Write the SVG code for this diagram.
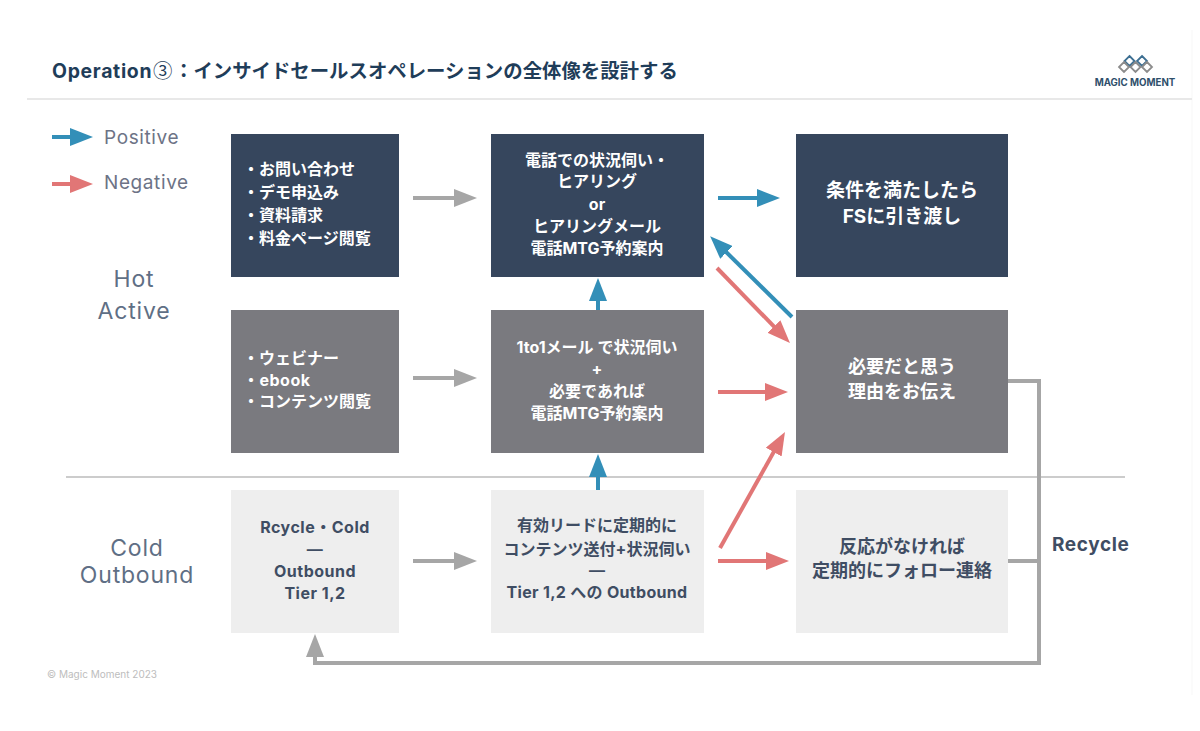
<svg xmlns="http://www.w3.org/2000/svg" width="1200" height="731" viewBox="0 0 1200 731">
<style>
text{font-family:"Inter","Noto Sans CJK JP",sans-serif}
.b{font-weight:700}
.w{fill:#fff}
.d{fill:#3f4d63}
.m{text-anchor:middle}
.s16{font-size:16px}.s18{font-size:18px}
.lat{letter-spacing:.5px}
.lab{font-size:23px;letter-spacing:.8px;fill:#5f6f85;text-anchor:middle}
.leg{font-size:19px;letter-spacing:.6px;fill:#6d7386}
.dark{fill:#36465d}.gray{fill:#7a7a7f}.light{fill:#eeeeee}
.c{fill:none;stroke-width:4}
.cg{stroke:#a6a6a6}.cb{stroke:#338fb8}.cr{stroke:#e17676}
.dm{fill:none;stroke-width:1.8}
</style>
<defs>
<marker id="ag" markerUnits="userSpaceOnUse" markerWidth="24" markerHeight="18" refX="12" refY="9" orient="auto"><path d="M0 0L23 9L0 18z" fill="#a6a6a6"/></marker>
<marker id="ab" markerUnits="userSpaceOnUse" markerWidth="24" markerHeight="18" refX="12" refY="9" orient="auto"><path d="M0 0L23 9L0 18z" fill="#338fb8"/></marker>
<marker id="ar" markerUnits="userSpaceOnUse" markerWidth="24" markerHeight="18" refX="12" refY="9" orient="auto"><path d="M0 0L23 9L0 18z" fill="#e17676"/></marker>
</defs>
<rect width="1200" height="731" fill="#fff"/>
<path d="M1192 30V695" stroke="#f7f7f7" stroke-width="1" fill="none"/>
<path d="M27 99H1192" stroke="#e8e8e8" stroke-width="2" fill="none"/>
<path d="M66 477H1125" stroke="#cccccc" stroke-width="2" fill="none"/>
<text id="title" x="52" y="78" class="b" font-size="19.400" fill="#1f3d59"><tspan letter-spacing=".7">Operation</tspan><tspan x="153" font-family="Noto Sans CJK JP" font-weight="400">③</tspan><tspan x="174">：インサイドセールスオペレーションの全体像を設計する</tspan></text>
<g id="logo">
<path class="dm" stroke="#3d6f92" d="M1129.500 56L1134.500 61L1129.500 66L1124.500 61zM1142 56L1147 61L1142 66L1137 61z"/>
<path class="dm" stroke="#8c8c8c" d="M1124 62L1129 67L1124 72L1119 67zM1135.500 62L1140.500 67L1135.500 72L1130.500 67zM1147 62L1152 67L1147 72L1142 67z"/>
<text x="1135" y="86" class="b m" font-size="9.700" fill="#2f4f6b">MAGIC MOMENT</text>
</g>
<g id="legend">
<path class="c cb" d="M52 137H82" marker-end="url(#ab)"/>
<text x="104" y="144" class="leg">Positive</text>
<path class="c cr" d="M52 184H82" marker-end="url(#ar)"/>
<text x="104" y="189" class="leg">Negative</text>
</g>
<g id="label-hot"><text x="134" y="287" class="lab">Hot</text><text x="134" y="319" class="lab">Active</text></g>
<g id="label-cold"><text x="137" y="556" class="lab">Cold</text><text x="137" y="583" class="lab">Outbound</text></g>
<text id="label-recycle" x="1052" y="551" class="b" font-size="19" letter-spacing=".6" fill="#3f4d63">Recycle</text>
<text id="copyright" x="47" y="678" font-size="10" fill="#bdbdbd">© Magic Moment 2023</text>
<g id="connectors">
<path class="c cg" d="M413 198H466" marker-end="url(#ag)"/>
<path class="c cg" d="M413 378H466" marker-end="url(#ag)"/>
<path class="c cg" d="M413 561H466" marker-end="url(#ag)"/>
<path class="c cb" d="M718 198H769" marker-end="url(#ab)"/>
<path class="c cb" d="M598 310V289" marker-end="url(#ab)"/>
<path class="c cb" d="M598 490V465" marker-end="url(#ab)"/>
<path class="c cb" d="M792 317L718 244" marker-end="url(#ab)"/>
<path class="c cr" d="M717 268L782.300 335.100" marker-end="url(#ar)"/>
<path class="c cr" d="M718 392H777" marker-end="url(#ar)"/>
<path class="c cr" d="M720 548L779.600 441.600" marker-end="url(#ar)"/>
<path class="c cr" d="M718 561H778" marker-end="url(#ar)"/>
<path class="c cg" d="M1008 381H1039V663H315V645" marker-end="url(#ag)"/>
<path class="c cg" d="M1008 561H1039"/>
</g>
<g id="n1"><rect class="dark" x="231" y="134" width="168" height="143"/>
<text class="b w s16" x="243" y="175">・お問い合わせ</text><text class="b w s16" x="243" y="198">・デモ申込み</text><text class="b w s16" x="243" y="221">・資料請求</text><text class="b w s16" x="243" y="244">・料金ページ閲覧</text></g>
<g id="n2"><rect class="dark" x="491" y="134" width="213" height="143"/>
<g class="b w s16 m"><text x="597" y="166">電話での状況伺い・</text><text x="597" y="187">ヒアリング</text><text x="597" y="210">or</text><text x="597" y="232">ヒアリングメール</text><text x="597" y="254">電話MTG予約案内</text></g></g>
<g id="n3"><rect class="dark" x="796" y="134" width="212" height="143"/>
<g class="b w m" font-size="19"><text x="902" y="197">条件を満たしたら</text><text x="902" y="223">FSに引き渡し</text></g></g>
<g id="n4"><rect class="gray" x="231" y="310" width="168" height="143"/>
<text class="b w s16" x="243" y="364">・ウェビナー</text><text class="b w s16 lat" x="243" y="386">・ebook</text><text class="b w s16" x="243" y="407">・コンテンツ閲覧</text></g>
<g id="n5"><rect class="gray" x="491" y="310" width="213" height="143"/>
<g class="b w s16 m"><text x="597" y="353">1to1メール で状況伺い</text><text x="597" y="375">+</text><text x="597" y="397">必要であれば</text><text x="597" y="419">電話MTG予約案内</text></g></g>
<g id="n6"><rect class="gray" x="796" y="310" width="212" height="143"/>
<g class="b w s18 m"><text x="902" y="373">必要だと思う</text><text x="902" y="398">理由をお伝え</text></g></g>
<g id="n7"><rect class="light" x="231" y="490" width="168" height="143"/>
<g class="b d s16 m lat"><text x="315" y="533">Rcycle・Cold</text><text x="315" y="555">—</text><text x="315" y="577">Outbound</text><text x="315" y="599">Tier 1,2</text></g></g>
<g id="n8"><rect class="light" x="491" y="490" width="213" height="143"/>
<g class="b d s16 m"><text x="597" y="531">有効リードに定期的に</text><text x="597" y="555">コンテンツ送付+状況伺い</text><text x="597" y="576">—</text><text x="597" y="598" letter-spacing=".3">Tier 1,2 への Outbound</text></g></g>
<g id="n9"><rect class="light" x="796" y="490" width="212" height="143"/>
<g class="b d s18 m"><text x="902" y="553">反応がなければ</text><text x="902" y="577">定期的にフォロー連絡</text></g></g>
</svg>
